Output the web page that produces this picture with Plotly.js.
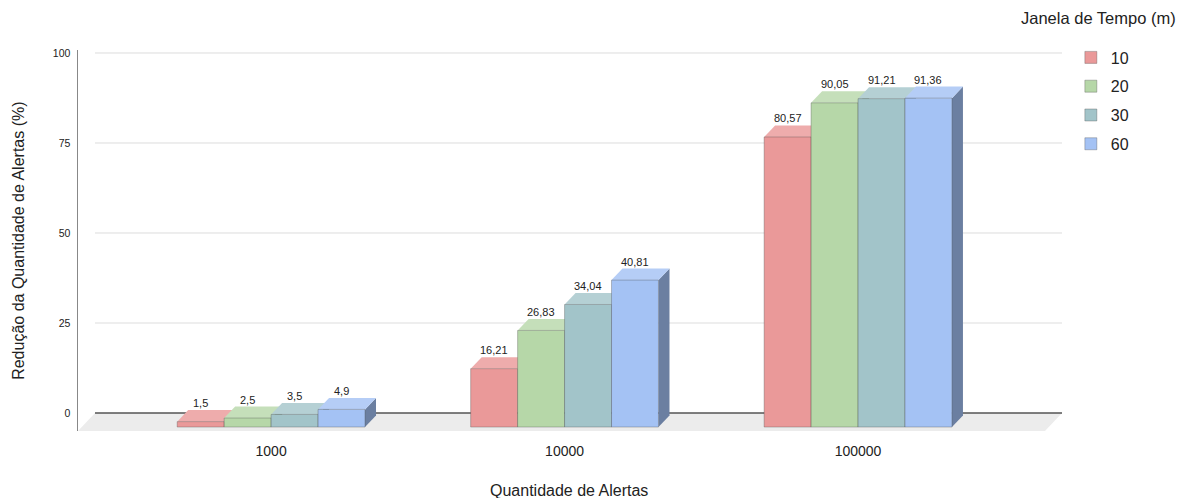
<!DOCTYPE html>
<html>
<head>
<meta charset="utf-8">
<script src="https://cdn.plot.ly/plotly-3.0.1.min.js"></script>
<style>html,body{margin:0;padding:0;background:#fff;}#chart{width:1179px;height:498px;}</style>
</head>
<body>
<div id="chart"></div>
<script>
// ---- data ----
const categories = ['1000', '10000', '100000'];
const seriesNames = ['10', '20', '30', '60'];
const values10 = [1.5, 16.21, 80.57];
const values20 = [2.5, 26.83, 90.05];
const values30 = [3.5, 34.04, 91.21];
const values60 = [4.9, 40.81, 91.36];
const yTicks = [0, 25, 50, 75, 100];

// ---- styling ----
const seriesValues = [values10, values20, values30, values60];
const frontColors = ['#ea9999', '#b6d7a8', '#a2c4c9', '#a4c2f4'];
const topColors   = ['#eeacac', '#c5dfba', '#b5d0d4', '#b5cdf6'];
const sideColors  = ['#9e6565', '#7b9271', '#6e8589', '#6b7fa1'];
const FONT = 'Liberation Sans, Arial, sans-serif';

const BAR_W = 0.16;        // width of one bar (category units)
const BASE = -3.9;         // front-face base (3D offset of the floor)
const DX = 0.0375;         // oblique depth, x
const DY = 3.2;            // oblique depth, y
const X_RANGE = [-0.658, 2.695];
const Y_RANGE = [-5, 100.83];
const FLOOR_PX = 17 / 984; // floor depth in paper units

const xIdx = categories.map((c, i) => i);
const fmt = v => String(v).replace('.', ',');

const traces = seriesNames.map((name, j) => ({
  type: 'bar',
  name: name,
  x: xIdx,
  y: seriesValues[j],
  base: BASE,
  width: BAR_W,
  offset: (j - 2) * BAR_W,
  marker: {color: frontColors[j], line: {color: 'rgba(70,70,70,0.55)', width: 0.6}},
  legendgroup: 'g' + j,
  hoverinfo: 'skip'
}));

const shapes = [];
// gridlines on back wall
yTicks.filter(t => t > 0).forEach(t => shapes.push({
  type: 'line', layer: 'below', xref: 'paper', yref: 'y',
  x0: FLOOR_PX, x1: 1, y0: t, y1: t,
  line: {color: '#dddddd', width: 1}
}));
// floor
shapes.push({
  type: 'path', layer: 'below', xref: 'paper', yref: 'y',
  path: `M ${FLOOR_PX},0 L 1,0 L ${1 - FLOOR_PX},${Y_RANGE[0]} L 0,${Y_RANGE[0]} Z`,
  fillcolor: '#ececec', line: {width: 0}
});
shapes.push({
  type: 'line', layer: 'below', xref: 'paper', yref: 'y',
  x0: FLOOR_PX, x1: 1, y0: 0, y1: 0,
  line: {color: '#555555', width: 1.3}
});
// 3D side and top faces
const annotations = [];
xIdx.forEach(i => {
  seriesNames.forEach((name, j) => {
    const v = seriesValues[j][i];
    const xl = i + (j - 2) * BAR_W;
    const xr = xl + BAR_W;
    const top = BASE + v;
    shapes.push({
      type: 'path', layer: 'below', xref: 'x', yref: 'y',
      path: `M ${xr},${BASE} L ${xr + DX},${BASE + DY} L ${xr + DX},${top + DY} L ${xr},${top} Z`,
      fillcolor: sideColors[j], line: {width: 0}
    });
    shapes.push({
      type: 'path', layer: 'below', xref: 'x', yref: 'y',
      path: `M ${xl},${top} L ${xl + DX},${top + DY} L ${xr + DX},${top + DY} L ${xr},${top} Z`,
      fillcolor: topColors[j], line: {width: 0}
    });
    annotations.push({
      xref: 'x', yref: 'y', x: (xl + xr) / 2, y: top + DY,
      text: fmt(v), showarrow: false, yanchor: 'bottom', yshift: -1,
      font: {family: FONT, size: 11, color: '#222222'}
    });
  });
});
// titles
annotations.push({
  xref: 'paper', yref: 'paper', x: -0.06, y: 0.499, textangle: -90,
  text: 'Redução da Quantidade de Alertas (%)', showarrow: false,
  xanchor: 'center', yanchor: 'middle',
  font: {family: FONT, size: 16, color: '#222222'}
});
annotations.push({
  xref: 'paper', yref: 'paper', x: 0.499, y: -0.155,
  text: 'Quantidade de Alertas', showarrow: false,
  xanchor: 'center', yanchor: 'middle',
  font: {family: FONT, size: 16, color: '#222222'}
});
annotations.push({
  xref: 'paper', yref: 'paper', x: 1.0366, y: 1.084,
  text: 'Janela de Tempo (m)', showarrow: false,
  xanchor: 'center', yanchor: 'middle',
  font: {family: FONT, size: 16.5, color: '#222222'}
});

const layout = {
  width: 1179, height: 498,
  margin: {l: 78, r: 117, t: 50, b: 67},
  paper_bgcolor: '#ffffff',
  plot_bgcolor: 'rgba(0,0,0,0)',
  barmode: 'overlay',
  font: {family: FONT, color: '#222222'},
  xaxis: {
    range: X_RANGE, tickvals: xIdx, ticktext: categories,
    showgrid: false, zeroline: false, showline: false,
    ticks: 'outside', ticklen: 7, tickcolor: 'rgba(0,0,0,0)',
    tickfont: {family: FONT, size: 14, color: '#222222'}
  },
  yaxis: {
    range: Y_RANGE, tickvals: yTicks, ticktext: yTicks.map(String),
    showgrid: false, zeroline: false,
    showline: true, linecolor: '#888888', linewidth: 1.5,
    ticks: 'outside', ticklen: 4, tickcolor: 'rgba(0,0,0,0)',
    tickfont: {family: FONT, size: 10.5, color: '#222222'}
  },
  legend: {
    x: 1.009, xanchor: 'left', y: 1.025, yanchor: 'top',
    traceorder: 'grouped', tracegroupgap: 5,
    font: {family: FONT, size: 16, color: '#222222'},
    bgcolor: 'rgba(0,0,0,0)'
  },
  shapes: shapes,
  annotations: annotations
};

Plotly.newPlot('chart', traces, layout, {staticPlot: true, displayModeBar: false});
</script>
</body>
</html>
